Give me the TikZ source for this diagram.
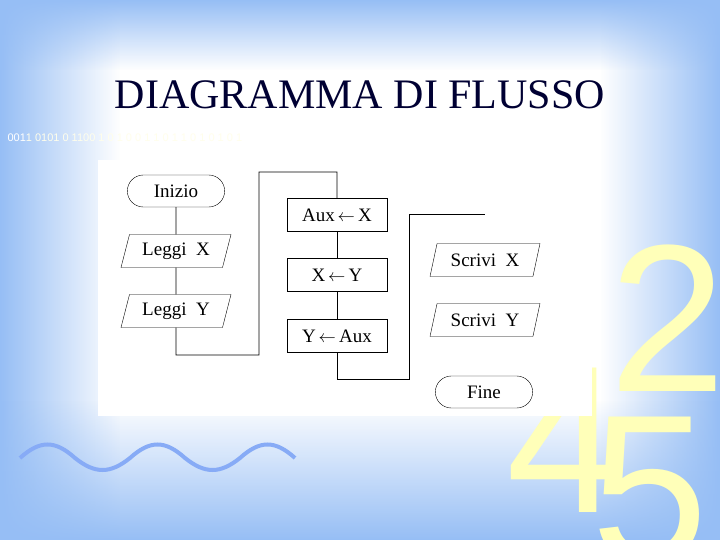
\documentclass[tikz,border=0pt]{standalone}
\usepackage{fontspec}
\setmainfont{Liberation Serif}
\newfontfamily\sansf{Liberation Sans}
\usetikzlibrary{shapes.geometric,shapes.misc,fadings}
\definecolor{bgblue}{RGB}{150,190,245}
\definecolor{paleyel}{RGB}{255,255,185}
\tikzset{
 term/.style={draw,rounded rectangle,minimum width=104pt,minimum height=32pt,font=\fontsize{19}{19}\selectfont},
 io/.style={draw,trapezium,trapezium left angle=70,trapezium right angle=110,minimum width=110pt,minimum height=33pt,inner xsep=2pt,font=\fontsize{19}{19}\selectfont,trapezium stretches body=true},
 proc/.style={draw,rectangle,minimum width=100pt,minimum height=33pt,font=\fontsize{19}{19}\selectfont},
 wire/.style={draw,line width=0.8pt},
 bignum/.style={font=\sansf\fontsize{210}{210}\selectfont,text=paleyel}
}
\begin{document}
\begin{tikzpicture}[x=1pt,y=-1pt]
\useasboundingbox (0,0) rectangle (720,540);
\fill[white] (0,0) rectangle (720,540);
\fill[bgblue,path fading=east] (0,0) rectangle (120,540);
\fill[bgblue,path fading=west] (600,0) rectangle (720,540);
\fill[bgblue,path fading=south] (0,0) rectangle (720,70);
\fill[bgblue,path fading=north] (0,400) rectangle (720,540);
\node[bignum] (n2) at (668,318) {2};
\node[bignum] (n4) at (565,440) {4};
\node[bignum] (n5) at (650,490) {5};
\draw[bgblue!90!blue,line width=4pt] (20,458) .. controls (40,440) and (55,440) .. (75,458) .. controls (95,474) and (110,474) .. (130,458) .. controls (150,440) and (165,440) .. (185,458) .. controls (205,474) and (220,474) .. (240,458) .. controls (260,440) and (275,440) .. (295,458);
\node[font=\fontsize{42}{42}\selectfont,text=black!80!blue] (title) at (360,95) {DIAGRAMMA DI FLUSSO};
\node[anchor=west,font=\sansf\fontsize{11}{11}\selectfont,text=white] (bits) at (4,138) {001\textcolor{yellow!8}{1 0101 0 1100 1 0 1 0 0 1 1 0 1 1 0 1 0 1 0 1}};
\fill[white] (98,160) rectangle (592,416);
\node[term] (ini) at (176,191) {Inizio};
\node[io] (lx) at (176,251) {Leggi\ \ X};
\node[io] (ly) at (176,311) {Leggi\ \ Y};
\node[proc] (a1) at (337,215) {Aux$\,\leftarrow$\,X};
\node[proc] (a2) at (337,275) {X$\,\leftarrow$\,Y};
\node[proc] (a3) at (337,336) {Y$\,\leftarrow$\,Aux};
\node[io] (sx) at (485,260) {Scrivi\ \ X};
\node[io] (sy) at (485,320) {Scrivi\ \ Y};
\node[term] (fine) at (484,392) {Fine};
\coordinate (e1) at (485,214);
\draw[wire] (ini) -- (lx);
\draw[wire] (lx) -- (ly);
\draw[wire] (ly.south) -- (176,355) -- (259,355) -- (259,172) -- (337,172) -- (a1.north);
\draw[wire] (a1) -- (a2);
\draw[wire] (a2) -- (a3);
\draw[wire] (a3.south) -- (337,379) -- (409,379) -- (409,214) -- (e1);
\end{tikzpicture}
\end{document}
